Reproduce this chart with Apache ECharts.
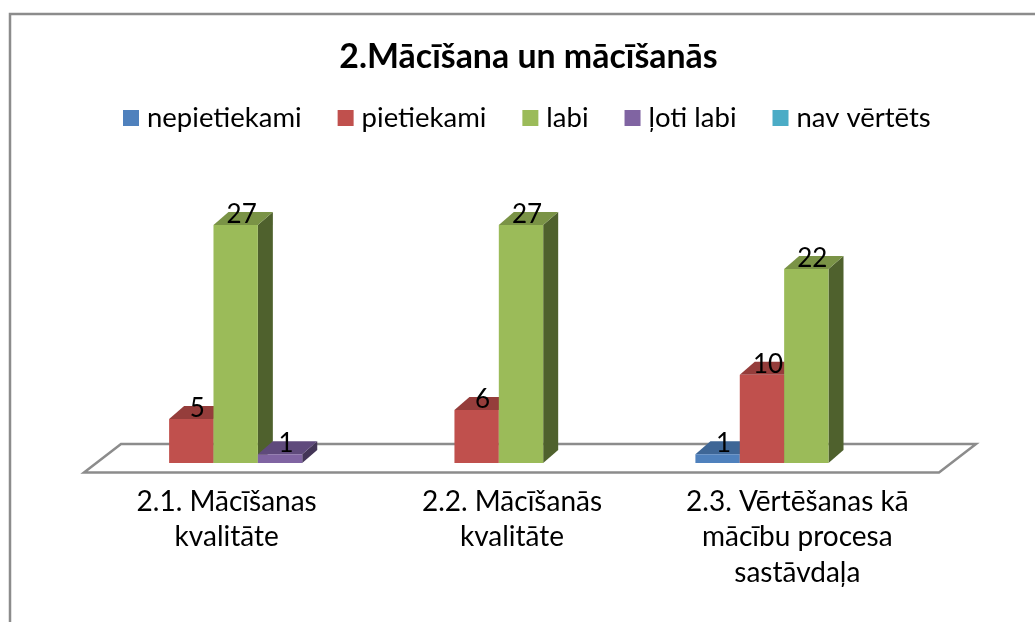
<!DOCTYPE html>
<html>
<head>
<meta charset="utf-8">
<style>html,body{margin:0;padding:0;background:#fff}#c{width:1035px;height:622px}</style>
<script src="https://cdn.jsdelivr.net/npm/echarts@6/dist/echarts.min.js"></script>
</head>
<body>
<div id="c"></div>
<script>
const categories = ['2.1. Mācīšanas\nkvalitāte', '2.2. Mācīšanās\nkvalitāte', '2.3. Vērtēšanas kā\nmācību procesa\nsastāvdaļa'];
const seriesNames = ['nepietiekami', 'pietiekami', 'labi', 'ļoti labi', 'nav vērtēts'];
const nepietiekami = [null, null, 1];
const pietiekami = [5, 6, 10];
const labi = [27, 27, 22];
const lotiLabi = [1, null, null];
const navVertets = [null, null, null];
const seriesValues = [nepietiekami, pietiekami, labi, lotiLabi, navVertets];
const frontColors = ['#4F81BD', '#C0504D', '#9BBB59', '#8064A2', '#4BACC6'];
const topColors = ['#3E6696', '#953D3B', '#7A9346', '#5F4A7C', '#3A8599'];
const sideColors = ['#2F4C70', '#6F2D2C', '#4F612D', '#433557', '#2B6372'];

const FONT = 'Lato, "Noto Sans", sans-serif';
const DEPTH_X = 15, DEPTH_Y = 13, BAR_FRAC = 0.1555;

function barRenderer(si) {
  return function (params, api) {
    const v = api.value(1);
    if (v == null || isNaN(v)) return null;
    const band = api.size([1, 0])[0];
    const w = band * BAR_FRAC;
    const base = api.coord([api.value(0), 0]);
    const topY = api.coord([api.value(0), v])[1];
    const x0 = base[0] + (si - 2.5) * w;
    const x1 = x0 + w;
    const y0 = base[1];
    return {
      type: 'group',
      children: [
        { type: 'polygon', shape: { points: [[x1, y0], [x1 + DEPTH_X, y0 - DEPTH_Y], [x1 + DEPTH_X, topY - DEPTH_Y], [x1, topY]] }, style: { fill: sideColors[si] } },
        { type: 'polygon', shape: { points: [[x0, topY], [x0 + DEPTH_X, topY - DEPTH_Y], [x1 + DEPTH_X, topY - DEPTH_Y], [x1, topY]] }, style: { fill: topColors[si] } },
        { type: 'rect', shape: { x: x0, y: topY, width: w, height: y0 - topY }, style: { fill: frontColors[si] } },
        { type: 'text', z2: 100, style: { x: (x0 + x1) / 2 + 6, y: topY - 10.5, text: String(v), fill: '#000', font: '26px ' + FONT, align: 'center', verticalAlign: 'middle' } }
      ]
    };
  };
}

function floorRenderer(params, api) {
  const cs = params.coordSys;
  const y = api.coord([0, 0])[1];
  const l = cs.x, r = cs.x + cs.width;
  return {
    type: 'polygon',
    shape: { points: [[l - 9, y + 9.5], [r - 10, y + 9.5], [r + 27, y - 19], [l + 28, y - 19]] },
    style: { fill: '#fff', stroke: '#8C8C8C', lineWidth: 2.5 }
  };
}

const series = [{
  name: 'floor', type: 'custom', renderItem: floorRenderer, silent: true, z: 1,
  data: [[0, 0]], encode: { x: 0, y: 1 }
}];
seriesNames.forEach(function (name, si) {
  series.push({
    name: name, type: 'custom', z: 2,
    renderItem: barRenderer(si),
    itemStyle: { color: frontColors[si] },
    encode: { x: 0, y: 1 },
    data: seriesValues[si].map(function (v, i) { return [i, v]; })
  });
});

const chart = echarts.init(document.getElementById('c'), null, { renderer: 'canvas' });
chart.setOption({
  animation: false,
  backgroundColor: '#fff',
  title: {
    text: '2.Mācīšana un mācīšanās', left: 523.5, top: 35, textAlign: 'center',
    textStyle: { fontFamily: FONT, fontWeight: 'bold', fontSize: 33.9, color: '#000' }
  },
  legend: {
    data: seriesNames.map(function (n, i) { return { name: n, icon: 'rect', itemStyle: { color: frontColors[i] } }; }),
    left: 123, top: 104, padding: 0, itemWidth: 16, itemHeight: 16, itemGap: 36,
    textStyle: { fontFamily: FONT, fontSize: 27.5, color: '#000', padding: [0, 0, 0, 3] }
  },
  grid: { left: 93, width: 856, top: 198.6, height: 264.4 },
  xAxis: {
    type: 'category', data: categories,
    axisLine: { show: false }, axisTick: { show: false },
    axisLabel: { fontFamily: FONT, fontSize: 28, color: '#000', lineHeight: 35.5, margin: 21, interval: 0, padding: [0, 18, 0, 0] }
  },
  yAxis: { type: 'value', min: 0, max: 30, show: false, splitLine: { show: false } },
  graphic: [{
    type: 'polyline', silent: true,
    shape: { points: [[10, 622], [10, 14], [1035, 14]] },
    style: { stroke: '#8C8C8C', lineWidth: 2.5, fill: null }
  }],
  series: series
});
</script>
</body>
</html>
